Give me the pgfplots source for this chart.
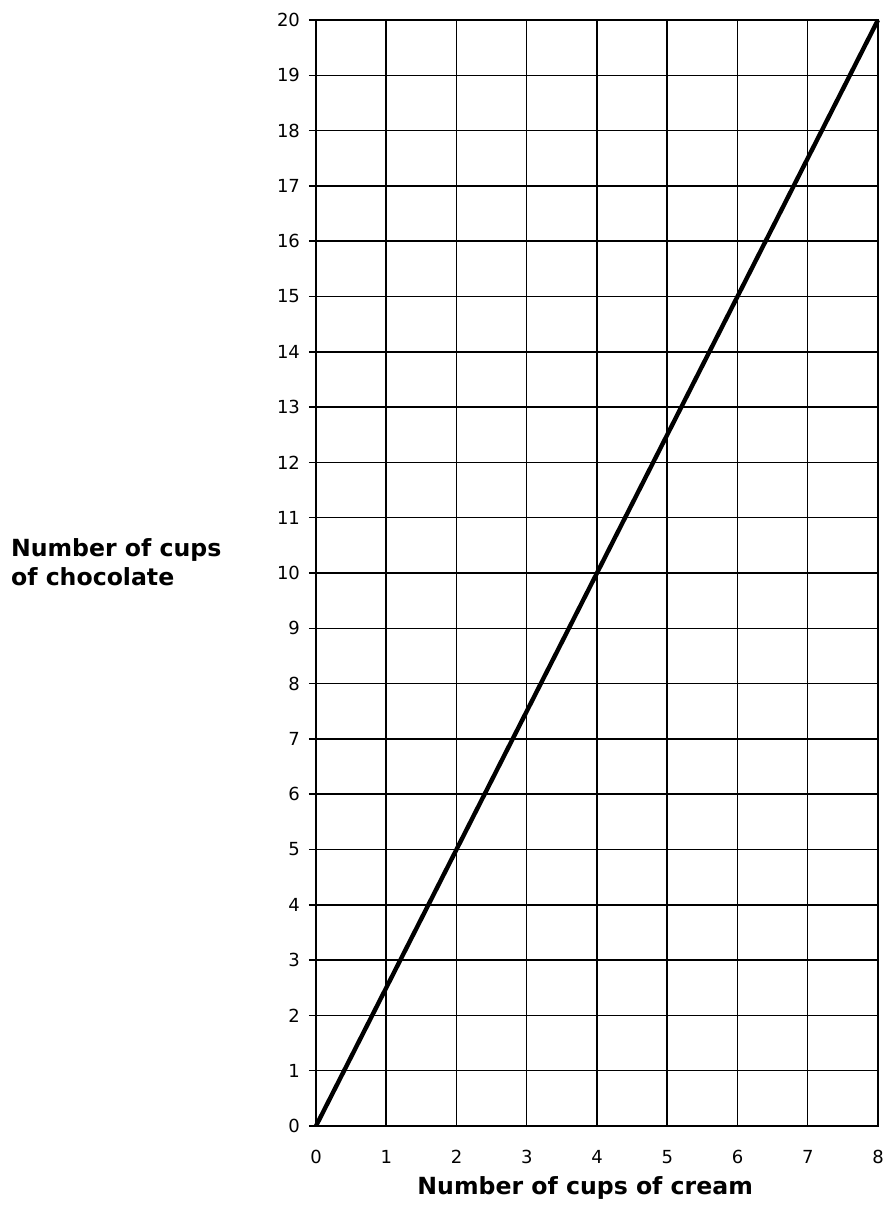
\documentclass[border=0pt]{standalone}
\usepackage{pgfplots}
\pgfplotsset{compat=1.18}
\usepackage{fontspec}
\setmainfont{DejaVu Sans}
\begin{document}
\begin{tikzpicture}
\path[use as bounding box] (-158pt,-53pt) rectangle (285.5pt,563pt);
\begin{axis}[
  at={(0,0)}, anchor=south west,
  scale only axis,
  width=281pt, height=553pt,
  xmin=0, xmax=8, ymin=0, ymax=20,
  xtick={0,...,8}, ytick={0,...,20},
  grid=major,
  major grid style={black, line width=0.75pt},
  axis line style={black, line width=0.8pt},
  tick align=outside,
  ytick pos=left,
  xtick pos=bottom,
  major tick length=3.5pt,
  xtick style={draw=none},
  ytick style={black, line width=0.75pt},
  /pgf/number format/assume math mode=true,
  ticklabel style={font=\fontsize{9}{10}\selectfont, text=black},
  xticklabel style={yshift=-5pt},
  yticklabel style={xshift=-1pt},
  clip=false,
]
\addplot[black, line width=2.2pt] coordinates {(0,0) (8,20)};
\node[anchor=west, align=left, font=\fontsize{11.8}{14.5}\bfseries\selectfont] at (rel axis cs:0,0.51) [xshift=-156pt] {Number of cups\\of chocolate};
\node[anchor=center, font=\fontsize{11.8}{14}\bfseries\selectfont] at (rel axis cs:0.479,0) [yshift=-31pt] {Number of cups of cream};
\end{axis}
\end{tikzpicture}
\end{document}
